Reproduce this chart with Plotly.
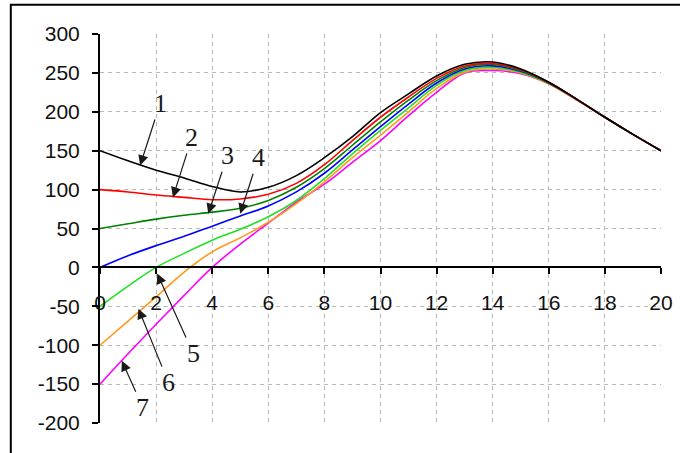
import plotly.graph_objects as go

# x positions shared by all curves
x_vals = [0, 1, 2, 3, 4, 5, 6, 7, 8, 9, 10, 11, 12, 13, 14, 15, 16, 17, 18, 19, 20]

curve_1 = [150, 137, 125, 115, 104, 97, 103, 118, 141, 168, 199, 223, 246, 261, 264, 255, 238, 216, 193, 171, 150]
curve_2 = [100, 97, 93, 90, 87, 88, 94, 108, 132, 163, 193, 219, 243, 259, 262, 254, 238, 216, 193, 171, 150]
curve_3 = [50, 56, 62, 67, 71, 76, 86, 103, 127, 157, 187, 215, 240, 257, 261, 253, 237, 216, 193, 171, 150]
curve_4 = [0, 15, 28, 40, 53, 66, 79, 97, 121, 151, 181, 210, 237, 255, 259, 252, 237, 216, 193, 171, 150]
curve_5 = [-50, -24, 0, 18, 35, 49, 65, 86, 114, 146, 176, 205, 234, 253, 257, 251, 237, 216, 193, 171, 150]
curve_6 = [-100, -69, -38, -6, 20, 38, 58, 82, 110, 141, 170, 200, 230, 251, 255, 250, 236, 215, 193, 171, 150]
curve_7 = [-150, -111, -73, -36, 0, 30, 57, 84, 107, 135, 163, 195, 225, 250, 253, 249, 236, 215, 193, 171, 150]

curves = [curve_1, curve_2, curve_3, curve_4, curve_5, curve_6, curve_7]
colors = ['#000000', '#ff0000', '#008000', '#0000ff', '#22e022', '#ff9a1a', '#ff00ff']

x_ticks = [0, 2, 4, 6, 8, 10, 12, 14, 16, 18, 20]
y_ticks = [-200, -150, -100, -50, 0, 50, 100, 150, 200, 250, 300]
y_tick_labels = ['-200', '-150', '-100', '-50', '0', '50', '100', '150', '200', '250', '300']
y_grid = [-150, -100, -50, 0, 50, 100, 150, 200, 250]

# curve labels: text, point the arrow hits
label_text = ['1', '2', '3', '4', '5', '6', '7']
label_x = [1.43, 2.6, 3.86, 5.0, 2.04, 1.37, 0.78]
label_y = [131, 90, 69, 69, -8, -53, -120]
label_off = [(20, -62), (19, -60), (19, -58), (18, -56), (36, 80), (30, 74), (21, 47)]

fig = go.Figure()
for i in range(len(curves) - 1, -1, -1):
    fig.add_trace(go.Scatter(x=x_vals, y=curves[i], mode='lines',
                             line=dict(color=colors[i], width=1.6, shape='spline'),
                             showlegend=False, hoverinfo='skip'))

for i in range(len(label_text)):
    fig.add_annotation(x=label_x[i], y=label_y[i], text=label_text[i],
                       ax=label_off[i][0], ay=label_off[i][1],
                       showarrow=True, arrowhead=2, arrowsize=1.7, arrowwidth=1.2,
                       arrowcolor='#1a1a1a', standoff=0,
                       font=dict(family='Liberation Serif', size=26, color='#1a1a1a'))

fig.update_xaxes(range=[0, 20], tickvals=x_ticks, anchor='free', position=0.4,
                 showline=True, linecolor='black', linewidth=2,
                 ticks='outside', ticklen=6, tickwidth=2, tickcolor='black',
                 ticklabelstandoff=10, zeroline=False,
                 showgrid=True, gridcolor='#b8b8b8', gridwidth=1, griddash='4px,4px',
                 tickfont=dict(family='Liberation Sans', size=21, color='#111111'))
fig.update_yaxes(range=[-200, 300], tickvals=y_ticks, ticktext=y_tick_labels,
                 showline=True, linecolor='black', linewidth=2,
                 ticks='outside', ticklen=6, tickwidth=2, tickcolor='black',
                 ticklabelstandoff=8, zeroline=False, showgrid=False,
                 minor=dict(tickvals=y_grid, showgrid=True, gridcolor='#b8b8b8',
                            gridwidth=1, griddash='4px,4px', ticks=''),
                 tickfont=dict(family='Liberation Sans', size=21, color='#111111'))

# outer frame, only top and left edges fall inside the picture
fig.add_shape(type='rect', xref='paper', yref='paper',
              x0=-0.159, x1=1.06, y0=-0.1, y1=1.075,
              line=dict(color='black', width=2))

fig.update_layout(width=680, height=453,
                  margin=dict(l=100, r=19, t=34, b=30, autoexpand=False),
                  plot_bgcolor='white', paper_bgcolor='white')

# page body has a default margin, drop it so the chart sits at 0,0
fig.write_html("out.html", config={'displayModeBar': False},
               post_script="document.body.style.margin='0';")
